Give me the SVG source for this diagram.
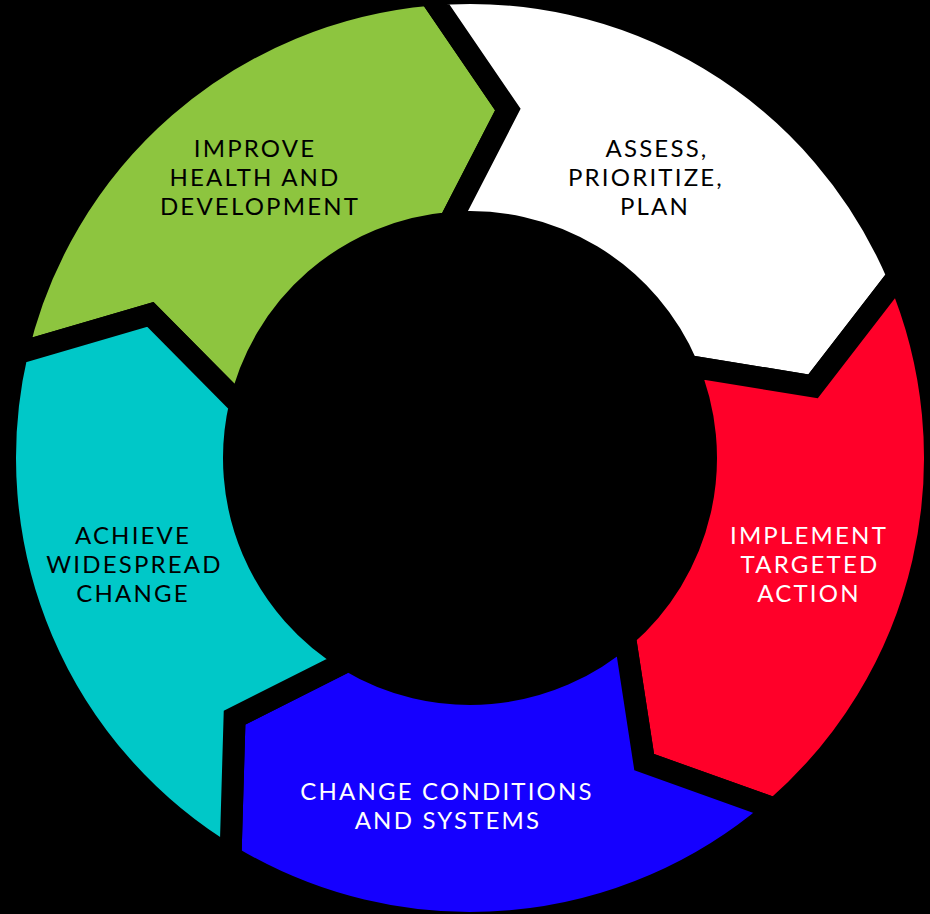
<svg xmlns="http://www.w3.org/2000/svg" width="930" height="914" viewBox="0 0 930 914">
<style>
.seg{stroke:#000;stroke-width:22;stroke-linejoin:miter;stroke-miterlimit:10}
.t{font-family:Lato,"Liberation Sans",sans-serif;font-size:24px;text-anchor:middle;letter-spacing:2.2px}
.dk{fill:#000}
.lt{fill:#fff}
</style>
<rect width="930" height="914" fill="#000"/>
<g id="connectors"></g>
<g id="improve">
<path class="seg" fill="#8DC53F" d="M16.92,353.40 A465,465 0 0 1 429.47,-5.23 L507.85,109.55 L449.43,222.90 A236,236 0 0 0 240.05,404.91 L150.30,314.32 Z"/>
<text class="t dk" x="255" y="157">IMPROVE</text>
<text class="t dk" x="255" y="186">HEALTH AND</text>
<text class="t dk" x="260" y="215">DEVELOPMENT</text>
</g>
<g id="assess">
<path class="seg" fill="#FFFFFF" d="M429.47,-5.23 A465,465 0 0 1 898.03,276.31 L813.10,386.32 L687.24,365.79 A236,236 0 0 0 449.43,222.90 L507.85,109.55 Z"/>
<text class="t dk" x="657" y="157">ASSESS,</text>
<text class="t dk" x="646" y="186">PRIORITIZE,</text>
<text class="t dk" x="655" y="215">PLAN</text>
</g>
<g id="implement">
<path class="seg" fill="#FF0029" d="M898.03,276.31 A465,465 0 0 1 775.07,808.94 L644.19,762.15 L624.83,636.11 A236,236 0 0 0 687.24,365.79 L813.10,386.32 Z"/>
<text class="t lt" x="809" y="543.5">IMPLEMENT</text>
<text class="t lt" x="810" y="572.5">TARGETED</text>
<text class="t lt" x="809" y="601.5">ACTION</text>
</g>
<g id="change-conditions">
<path class="seg" fill="#1500FF" d="M775.07,808.94 A465,465 0 0 1 230.51,856.58 L234.56,717.65 L348.45,660.29 A236,236 0 0 0 624.83,636.11 L644.19,762.15 Z"/>
<text class="t lt" x="447" y="799.5">CHANGE CONDITIONS</text>
<text class="t lt" x="448" y="828.5">AND SYSTEMS</text>
</g>
<g id="achieve">
<path class="seg" fill="#00C8C8" d="M230.51,856.58 A465,465 0 0 1 16.92,353.40 L150.30,314.32 L240.05,404.91 A236,236 0 0 0 348.45,660.29 L234.56,717.65 Z"/>
<text class="t dk" x="133" y="544">ACHIEVE</text>
<text class="t dk" x="134.5" y="573">WIDESPREAD</text>
<text class="t dk" x="133" y="602">CHANGE</text>
</g>
</svg>
